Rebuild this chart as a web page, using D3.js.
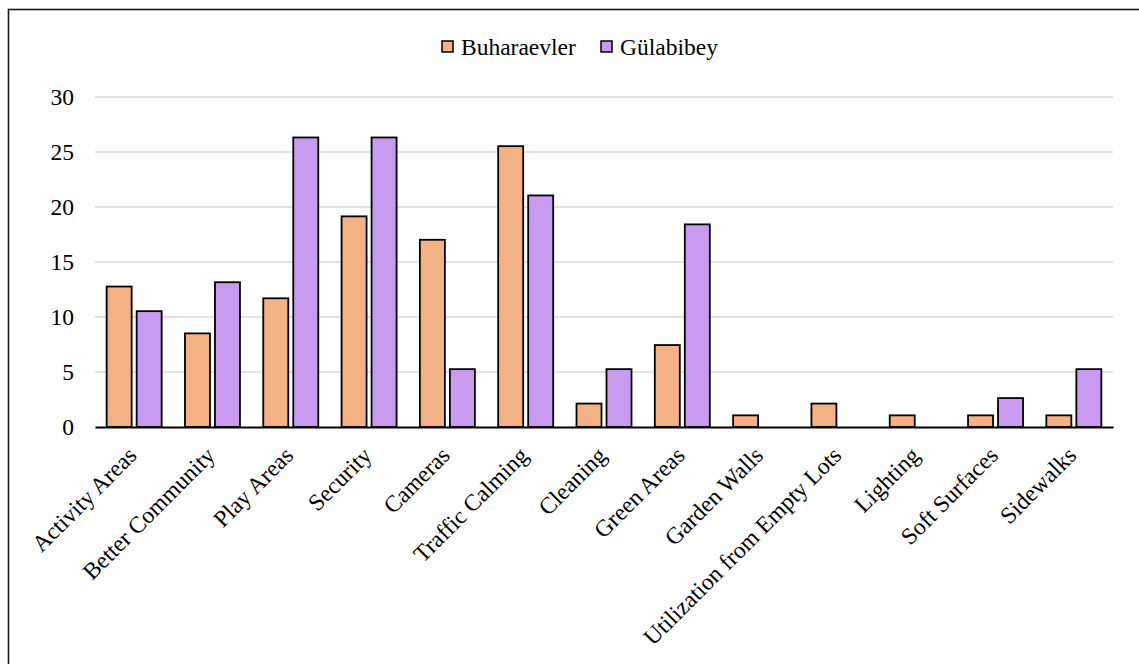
<!DOCTYPE html>
<html>
<head>
<meta charset="utf-8">
<script src="https://cdn.jsdelivr.net/npm/d3@7"></script>
<style>
  html, body { margin: 0; padding: 0; background: #fff; }
  svg text { font-family: "Liberation Serif", "Times New Roman", serif !important; fill: #000; }
</style>
</head>
<body>
<svg id="chart" width="1139" height="664"></svg>
<script>
// Survey responses (%) by neighbourhood
const categories = ["Activity Areas", "Better Community", "Play Areas", "Security", "Cameras",
  "Traffic Calming", "Cleaning", "Green Areas", "Garden Walls", "Utilization from Empty Lots",
  "Lighting", "Soft Surfaces", "Sidewalks"];
const seriesNames = ["Buharaevler", "Gülabibey"];
const buharaevler = [12.77, 8.51, 11.70, 19.15, 17.02, 25.53, 2.13, 7.45, 1.06, 2.13, 1.06, 1.06, 1.06];
const gulabibey = [10.53, 13.16, 26.32, 26.32, 5.26, 21.05, 5.26, 18.42, 0, 0, 0, 2.63, 5.26];
const yTicks = [0, 5, 10, 15, 20, 25, 30];
const colors = ["#f4b183", "#c89bf0"];

const svg = d3.select("#chart");
const W = 1139, H = 664;
const margin = { left: 95, right: 26, top: 97, bottom: 237 };
const plotW = W - margin.left - margin.right;
const plotH = H - margin.top - margin.bottom;

// outer frame
svg.append("rect")
  .attr("x", 8.5).attr("y", 9.5)
  .attr("width", W + 20).attr("height", H + 20)
  .attr("fill", "none").attr("stroke", "#1a1a1a").attr("stroke-width", 1.6);

const g = svg.append("g").attr("transform", `translate(${margin.left},${margin.top})`);

const x0 = d3.scaleBand().domain(categories).range([0, plotW]).padding(0);
const y = d3.scaleLinear().domain([0, 30]).range([plotH, 0]);

// gridlines
g.append("g").selectAll("line")
  .data(yTicks.filter(t => t > 0))
  .join("line")
  .attr("x1", 0).attr("x2", plotW)
  .attr("y1", d => y(d)).attr("y2", d => y(d))
  .attr("stroke", "#d9d9d9").attr("stroke-width", 1.5);

// y axis labels
const yAxis = g.append("g")
  .call(d3.axisLeft(y).tickValues(yTicks).tickSize(0).tickPadding(21));
yAxis.select(".domain").remove();
yAxis.selectAll("text").attr("font-size", 23.5);

// bars
const bw = 25, gap = 5;
const series = [buharaevler, gulabibey];
series.forEach((vals, si) => {
  g.append("g").selectAll("rect")
    .data(vals.map((v, i) => ({ cat: categories[i], v })).filter(d => d.v > 0))
    .join("rect")
    .attr("x", d => x0(d.cat) + x0.bandwidth() / 2 + (si === 0 ? -(bw + gap / 2) : gap / 2))
    .attr("y", d => y(d.v))
    .attr("width", bw)
    .attr("height", d => y(0) - y(d.v))
    .attr("fill", colors[si])
    .attr("stroke", "#000").attr("stroke-width", 1.8);
});

// x axis
const xAxis = g.append("g")
  .attr("transform", `translate(0,${plotH})`)
  .call(d3.axisBottom(x0).tickSize(0).tickPadding(0));
xAxis.select(".domain").attr("stroke", "#000").attr("stroke-width", 2.2);
xAxis.selectAll("text")
  .attr("font-size", 23.5)
  .attr("text-anchor", "end")
  .attr("dy", null).attr("y", 0)
  .attr("transform", "translate(-8,18) rotate(-45)")
  .attr("dominant-baseline", "hanging");

// legend
const legend = svg.append("g").attr("transform", "translate(442,47)");
const items = [{ name: seriesNames[0], x: 0 }, { name: seriesNames[1], x: 159 }];
items.forEach((it, i) => {
  legend.append("rect")
    .attr("x", it.x).attr("y", -6).attr("width", 11).attr("height", 11)
    .attr("fill", colors[i]).attr("stroke", "#000").attr("stroke-width", 1.5);
  legend.append("text")
    .attr("x", it.x + 19).attr("y", 0).attr("dy", "0.35em")
    .attr("font-size", 23.5)
    .text(it.name);
});
</script>
</body>
</html>
